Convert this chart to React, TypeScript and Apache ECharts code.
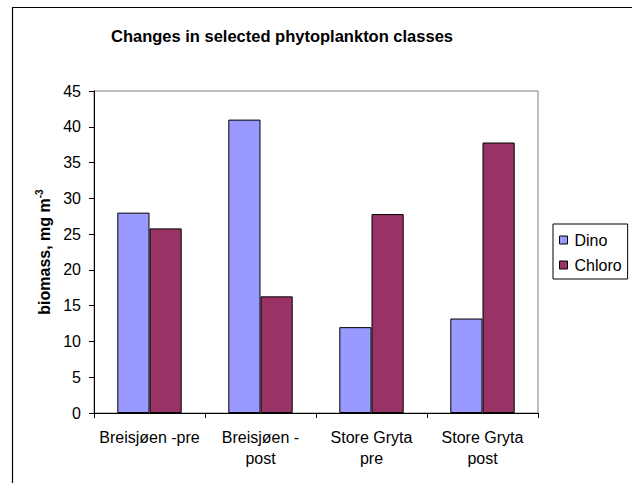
import { useEffect, useRef } from "react";
import * as echarts from "echarts";

const categories = ["Breisjøen -pre", "Breisjøen -\npost", "Store Gryta\npre", "Store Gryta\npost"];
const dino = [28, 41, 12, 13.2];
const chloro = [25.8, 16.3, 27.8, 37.8];
const font = "Liberation Sans, Arial, sans-serif";

export default function App() {
  const chartRef = useRef<HTMLDivElement>(null);

  useEffect(() => {
    if (!chartRef.current) return;
    const chart = echarts.init(chartRef.current, undefined, { renderer: "svg" });
    chart.setOption({
      animation: false,
      backgroundColor: "#fff",
      textStyle: { fontFamily: font },
      title: {
        text: "Changes in selected phytoplankton classes",
        left: 277,
        top: 22,
        textAlign: "center",
        textStyle: { fontSize: 16.5, fontWeight: "bold", color: "#000", fontFamily: font },
      },
      graphic: [
        {
          type: "rect",
          shape: { x: 12.5, y: 7.5, width: 800, height: 800 },
          style: { fill: "none", stroke: "#000", lineWidth: 1.2 },
          silent: true,
          z: 100,
        },
      ],
      legend: {
        orient: "vertical",
        left: 553,
        top: 224,
        padding: [8, 6, 6, 6],
        borderColor: "#000",
        borderWidth: 1,
        itemWidth: 8,
        itemHeight: 8,
        itemGap: 9,
        icon: "rect",
        itemStyle: { borderColor: "#000", borderWidth: 1 },
        textStyle: { fontSize: 16, lineHeight: 16, color: "#000", fontFamily: font, padding: [0, 0, 0, 2] },
        data: ["Dino", "Chloro"],
      },
      grid: {
        left: 94,
        top: 91,
        right: 94,
        bottom: 70,
        show: true,
        borderColor: "#808080",
        borderWidth: 1,
        containLabel: false,
      },
      xAxis: {
        type: "category",
        data: categories,
        axisLine: { lineStyle: { color: "#000", width: 1 } },
        axisTick: { show: true, length: 5, lineStyle: { color: "#000" } },
        axisLabel: {
          fontSize: 16,
          lineHeight: 21,
          color: "#000",
          margin: 14,
          interval: 0,
          fontFamily: font,
        },
      },
      yAxis: {
        type: "value",
        min: 0,
        max: 45,
        interval: 5,
        name: "{a|biomass, mg m}{sup|-3}",
        nameLocation: "middle",
        nameGap: 40,
        nameRotate: 90,
        nameTextStyle: {
          rich: {
            a: { fontSize: 16, fontWeight: "bold", color: "#000", fontFamily: font, lineHeight: 19 },
            sup: { fontSize: 10, fontWeight: "bold", color: "#000", fontFamily: font, verticalAlign: "top", lineHeight: 10 },
          },
        },
        axisLine: { show: true, lineStyle: { color: "#000", width: 1 } },
        axisTick: { show: true, length: 5, lineStyle: { color: "#000" } },
        splitLine: { show: false },
        axisLabel: { fontSize: 16, color: "#000", margin: 13, fontFamily: font },
      },
      series: [
        {
          name: "Dino",
          type: "bar",
          data: dino,
          barGap: "0%",
          barCategoryGap: "42%",
          itemStyle: { color: "#9999FF", borderColor: "#000", borderWidth: 1 },
        },
        {
          name: "Chloro",
          type: "bar",
          data: chloro,
          itemStyle: { color: "#993366", borderColor: "#000", borderWidth: 1 },
        },
      ],
    });
    return () => chart.dispose();
  }, []);

  return (
    <div
      ref={chartRef}
      style={{ position: "absolute", left: 0, top: 0, width: 632, height: 483 }}
    />
  );
}
